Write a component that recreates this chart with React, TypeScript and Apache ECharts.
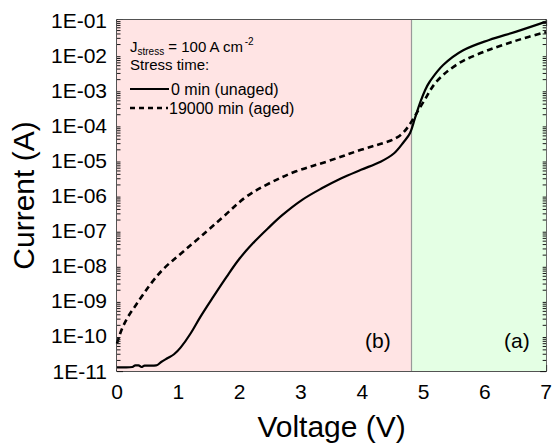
import React, { useEffect, useRef } from "react";
import * as echarts from "echarts";

const FONT = "'Liberation Sans', Arial, Helvetica, sans-serif";

const unagedV = [0, 0.15, 0.25, 0.3, 0.35, 0.4, 0.45, 0.55, 0.64, 0.72, 0.82, 0.93, 1.04, 1.2, 1.36, 1.57, 1.79, 2.0, 2.22, 2.46, 2.7, 3.02, 3.34, 3.66, 3.98, 4.3, 4.52, 4.68, 4.78, 4.86, 4.94, 5.02, 5.1, 5.32, 5.64, 6.07, 6.5, 7.0];
const unagedI = [1.27e-11, 1.27e-11, 1.3e-11, 1.45e-11, 1.45e-11, 1.3e-11, 1.42e-11, 1.42e-11, 1.44e-11, 1.8e-11, 2.3e-11, 3.0e-11, 4.7e-11, 1.17e-10, 3.5e-10, 1.3e-9, 4.9e-9, 1.6e-8, 4.4e-8, 1.15e-7, 2.8e-7, 7.5e-7, 1.6e-6, 3.1e-6, 5.4e-6, 9.2e-6, 1.6e-5, 3.4e-5, 6.0e-5, 1.6e-4, 4.2e-4, 9.5e-4, 1.74e-3, 5.2e-3, 1.35e-2, 2.7e-2, 4.6e-2, 9.0e-2];

const agedV = [0, 0.075, 0.18, 0.29, 0.4, 0.56, 0.77, 1.04, 1.31, 1.49, 1.73, 2.11, 2.48, 2.91, 3.45, 3.98, 4.41, 4.57, 4.68, 4.78, 5.0, 5.21, 5.53, 5.85, 6.28, 6.71, 7.0];
const agedI = [6e-11, 1.5e-10, 3.5e-10, 6.8e-10, 1.3e-9, 3.2e-9, 8.5e-9, 2.2e-8, 5.6e-8, 1.05e-7, 2.45e-7, 9.3e-7, 2.2e-6, 4.8e-6, 9.6e-6, 2.0e-5, 3.4e-5, 4.5e-5, 6.5e-5, 1.1e-4, 4.7e-4, 1.74e-3, 5.2e-3, 1.0e-2, 1.9e-2, 3.3e-2, 4.5e-2];

const regionB = [0, 4.8];
const regionA = [4.8, 7];
// y axis drawn in decades (log10 of current)
const yMinExp = -11;
const yMaxExp = -1;
const xMin = 0;
const xMax = 7;

const minorDecades = [-11, -10, -9, -8, -7, -6, -5, -4, -3, -2];
const minorMultipliers = [2, 3, 4, 5, 6, 7, 8, 9];

function fmtExp(e: number) {
  const r = Math.round(e);
  return "1E" + (r < 0 ? "-" : "+") + String(Math.abs(r)).padStart(2, "0");
}

export default function App() {
  const ref = useRef<HTMLDivElement>(null);
  useEffect(() => {
    if (!ref.current) return;
    const chart = echarts.init(ref.current, null, { renderer: "svg" });
    const axisColor = "#1a1a1a";
    const minorTickData: number[][] = [];
    minorDecades.forEach((d) =>
      minorMultipliers.forEach((m) => minorTickData.push([0, d + Math.log10(m)]))
    );
    const baseX = {
      type: "value",
      min: xMin,
      max: xMax,
      interval: 1,
      splitLine: { show: false },
      axisLine: { show: true, onZero: false, lineStyle: { color: axisColor, width: 1.5 } },
      axisTick: { show: true, inside: true, length: 6, lineStyle: { color: axisColor, width: 1.2 } },
      minorTick: { show: true, splitNumber: 2, length: 3, lineStyle: { color: axisColor, width: 1.2 } },
    };
    const baseY = {
      type: "value",
      min: yMinExp,
      max: yMaxExp,
      interval: 1,
      splitLine: { show: false },
      axisLine: { show: true, onZero: false, lineStyle: { color: axisColor, width: 1.5 } },
      axisTick: { show: true, inside: true, length: 6, lineStyle: { color: axisColor, width: 1.2 } },
    };
    const option: any = {
      animation: false,
      grid: { left: 112, right: 7, top: 20, bottom: 76, containLabel: false },
      xAxis: [
        {
          ...baseX,
          position: "bottom",
          name: "Voltage (V)",
          nameLocation: "middle",
          nameGap: 40,
          nameTextStyle: { fontSize: 30, fontFamily: FONT, color: "#000" },
          axisLabel: { fontSize: 21, fontFamily: FONT, color: "#000", margin: 10 },
        },
        { ...baseX, position: "top", axisLabel: { show: false } },
      ],
      yAxis: [
        {
          ...baseY,
          position: "left",
          name: "Current (A)",
          nameLocation: "middle",
          nameGap: 79,
          nameTextStyle: { fontSize: 30, fontFamily: FONT, color: "#000" },
          axisLabel: { fontSize: 21, fontFamily: FONT, color: "#000", margin: 10, formatter: fmtExp },
        },
        { ...baseY, position: "right", axisLabel: { show: false } },
      ],
      series: [
        {
          type: "line",
          name: "0 min (unaged)",
          data: unagedV.map((v, i) => [v, Math.log10(unagedI[i])]),
          showSymbol: false,
          symbol: "none",
          smooth: 0.35,
          lineStyle: { color: "#000", width: 2.2 },
          z: 5,
          markArea: {
            silent: true,
            data: [
              [{ xAxis: regionB[0], itemStyle: { color: "#FFE4E4" } }, { xAxis: regionB[1] }],
              [{ xAxis: regionA[0], itemStyle: { color: "#E4FFE4" } }, { xAxis: regionA[1] }],
            ],
          },
          markLine: {
            silent: true,
            symbol: "none",
            label: { show: false },
            lineStyle: { color: "#999", width: 1.2, type: "solid" },
            data: [{ xAxis: regionB[1] }],
          },
        },
        {
          type: "line",
          name: "19000 min (aged)",
          data: agedV.map((v, i) => [v, Math.log10(agedI[i])]),
          showSymbol: false,
          symbol: "none",
          smooth: 0.35,
          lineStyle: { color: "#000", width: 2.6, type: [6, 4] },
          z: 5,
        },
        {
          type: "custom",
          silent: true,
          clip: false,
          z: 6,
          data: minorTickData,
          renderItem: (params: any, api: any) => {
            const v = api.value(1);
            const pL = api.coord([xMin, v]);
            const pR = api.coord([xMax, v]);
            const st = { stroke: axisColor, lineWidth: 1 };
            return {
              type: "group",
              children: [
                { type: "line", shape: { x1: pL[0], y1: pL[1], x2: pL[0] + 3.5, y2: pL[1] }, style: st },
                { type: "line", shape: { x1: pR[0] - 3.5, y1: pR[1], x2: pR[0], y2: pR[1] }, style: st },
              ],
            };
          },
        },
      ],
      graphic: [
        {
          type: "text",
          left: 130,
          top: 36,
          z: 10,
          style: {
            text: "{m|J}{s|stress}{m| = 100 A cm}{p|-2}",
            rich: {
              m: { fontSize: 15, fontFamily: FONT, fill: "#000", lineHeight: 20 },
              s: { fontSize: 10, fontFamily: FONT, fill: "#000", verticalAlign: "bottom", lineHeight: 11 },
              p: { fontSize: 10, fontFamily: FONT, fill: "#000", verticalAlign: "top", lineHeight: 11 },
            },
          },
        },
        { type: "text", left: 130, top: 57, z: 10, style: { text: "Stress time:", fontSize: 15, fontFamily: FONT, fill: "#000" } },
        { type: "line", z: 10, shape: { x1: 130, y1: 89, x2: 169, y2: 89 }, style: { stroke: "#000", lineWidth: 2.2 } },
        { type: "text", left: 171, top: 81, z: 10, style: { text: "0 min (unaged)", fontSize: 16, fontFamily: FONT, fill: "#000" } },
        { type: "line", z: 10, shape: { x1: 130, y1: 108, x2: 168, y2: 108 }, style: { stroke: "#000", lineWidth: 2.6, lineDash: [5, 4] } },
        { type: "text", left: 169, top: 100, z: 10, style: { text: "19000 min (aged)", fontSize: 16, fontFamily: FONT, fill: "#000" } },
        { type: "text", left: 365, top: 330, z: 10, style: { text: "(b)", fontSize: 21, fontFamily: FONT, fill: "#000" } },
        { type: "text", left: 504, top: 330, z: 10, style: { text: "(a)", fontSize: 21, fontFamily: FONT, fill: "#000" } },
      ],
    };
    chart.setOption(option);
    return () => chart.dispose();
  }, []);
  return (
    <div
      ref={ref}
      style={{ position: "fixed", left: 0, top: 0, width: 555, height: 447, background: "#fff" }}
    />
  );
}
